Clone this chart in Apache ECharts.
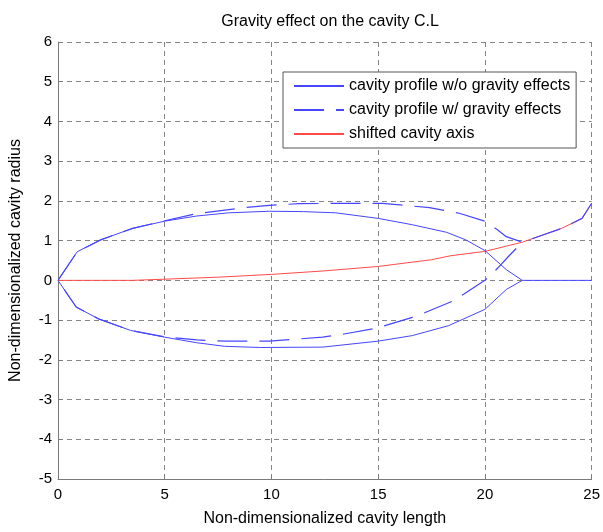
<!DOCTYPE html>
<html>
<head>
<meta charset="utf-8">
<title>Gravity effect on the cavity C.L</title>
<script src="https://cdn.jsdelivr.net/npm/echarts@6/dist/echarts.min.js"></script>
<style>
  html, body { margin: 0; padding: 0; background: #fff; }
  #chart { width: 603px; height: 532px; }
</style>
</head>
<body>
<div id="chart"></div>
<script>
// Cavity profile without gravity: upper contour, lower contour, closed wake
const noGravityUpper = [[0,0],[0.9,0.72],[2.0,1.02],[3.5,1.31],[5.0,1.49],[6.5,1.62],[8.0,1.70],[9.9,1.74],[11.5,1.73],[13.0,1.70],[15.0,1.56],[16.6,1.40],[18.2,1.21],[19.1,1.02],[20.0,0.75],[21.0,0.27],[21.75,0]];
const noGravityLower = [[0,0],[0.85,-0.67],[1.9,-0.97],[3.4,-1.26],[5.0,-1.43],[6.5,-1.57],[7.8,-1.66],[9.5,-1.69],[12.4,-1.68],[15.0,-1.53],[16.6,-1.39],[18.3,-1.14],[20.0,-0.73],[21.0,-0.23],[21.75,0]];
const noGravityTail = [[21.75,0],[25,0]];

// Cavity profile with gravity: upper contour, lower contour, tail along shifted axis
const gravityUpper = [[0,0],[0.9,0.72],[2.0,1.02],[3.5,1.31],[5.0,1.50],[6.5,1.68],[8.7,1.83],[9.9,1.89],[11.3,1.93],[13.0,1.94],[15.2,1.94],[17.4,1.83],[18.8,1.69],[20.0,1.49],[20.6,1.27],[21.0,1.10],[21.75,0.96]];
const gravityLower = [[0,0],[0.85,-0.67],[1.9,-0.97],[3.4,-1.26],[5.0,-1.42],[6.5,-1.50],[7.9,-1.53],[9.9,-1.53],[12.4,-1.43],[13.4,-1.35],[14.75,-1.22],[15.2,-1.16],[16.6,-0.93],[17.2,-0.81],[18.5,-0.52],[19.0,-0.35],[20.0,0],[20.2,0.1],[20.6,0.31],[21.1,0.6],[21.75,0.96]];
const gravityTail = [[21.75,0.96],[23.6,1.31],[24.55,1.56],[25,1.94]];

// Shifted cavity axis
const shiftedAxis = [[0,0],[3.5,0],[5,0.03],[7.5,0.08],[10,0.15],[12.5,0.24],[15,0.35],[17.5,0.52],[18.4,0.62],[20,0.73],[21.75,0.96],[23.6,1.31],[24.55,1.56],[25,1.94]];

const xTicks = { min: 0, max: 25, step: 5 };
const yTicks = { min: -5, max: 6, step: 1 };

// Join contours into one continuous polyline: tail -> upper (reversed) -> lower
function outline(tail, upper, lower) {
  return tail.slice().reverse().concat(upper.slice().reverse().slice(1), lower.slice(1));
}

const FONT = 'Liberation Sans, Arial, Helvetica, sans-serif';
const AXIS_GREY = '#7a7a7a';
const GRID_GREY = '#858585';
const BLUE = '#4646ff';
const RED = '#ff4a4a';

const chart = echarts.init(document.getElementById('chart'), null, { renderer: 'canvas' });

chart.setOption({
  backgroundColor: '#ffffff',
  animation: false,
  textStyle: { fontFamily: FONT },
  title: {
    text: 'Gravity effect on the cavity C.L',
    left: 325,
    textAlign: 'center',
    top: 9,
    textStyle: { fontFamily: FONT, fontSize: 16, fontWeight: 'normal', color: '#000' }
  },
  grid: { left: 57, right: 10, top: 42, bottom: 49, containLabel: false },
  legend: {
    orient: 'vertical',
    left: 283,
    top: 72,
    padding: [6, 6, 6, 10],
    itemWidth: 50,
    itemHeight: 14,
    itemGap: 8,
    backgroundColor: '#fff',
    borderColor: '#555',
    borderWidth: 1,
    borderRadius: 0,
    itemStyle: { opacity: 0 },
    textStyle: { fontFamily: FONT, fontSize: 16, color: '#000' },
    data: ['cavity profile w/o gravity effects', 'cavity profile w/ gravity effects', 'shifted cavity axis']
  },
  xAxis: {
    type: 'value',
    min: xTicks.min, max: xTicks.max, interval: xTicks.step,
    name: 'Non-dimensionalized cavity length',
    nameLocation: 'middle',
    nameGap: 32,
    nameTextStyle: { fontFamily: FONT, fontSize: 16, color: '#000' },
    axisLine: { show: true, onZero: false, lineStyle: { color: AXIS_GREY, width: 1 } },
    axisTick: { show: true, inside: true, length: 4, lineStyle: { color: AXIS_GREY } },
    axisLabel: { fontFamily: FONT, fontSize: 15, color: '#000', margin: 8 },
    splitLine: { show: true, lineStyle: { color: GRID_GREY, width: 1, type: [5, 4] } }
  },
  yAxis: {
    type: 'value',
    min: yTicks.min, max: yTicks.max, interval: yTicks.step,
    name: 'Non-dimensionalized cavity radius',
    nameLocation: 'middle',
    nameGap: 34,
    nameTextStyle: { fontFamily: FONT, fontSize: 16, color: '#000' },
    axisLine: { show: true, onZero: false, lineStyle: { color: AXIS_GREY, width: 1 } },
    axisTick: { show: true, inside: true, length: 4, lineStyle: { color: AXIS_GREY } },
    axisLabel: { fontFamily: FONT, fontSize: 15, color: '#000', margin: 6 },
    splitLine: { show: true, lineStyle: { color: GRID_GREY, width: 1, type: [5, 4] } }
  },
  series: [
    {
      name: 'cavity profile w/o gravity effects',
      type: 'line',
      data: outline(noGravityTail, noGravityUpper, noGravityLower),
      symbol: 'none',
      z: 3,
      lineStyle: { color: BLUE, width: 1 },
      itemStyle: { color: BLUE }
    },
    {
      name: 'cavity profile w/ gravity effects',
      type: 'line',
      data: outline(gravityTail, gravityUpper, gravityLower),
      symbol: 'none',
      z: 4,
      lineStyle: { color: BLUE, width: 1.2, type: [30, 12] },
      itemStyle: { color: BLUE }
    },
    {
      name: 'shifted cavity axis',
      type: 'line',
      data: shiftedAxis,
      symbol: 'none',
      z: 2,
      lineStyle: { color: RED, width: 1 },
      itemStyle: { color: RED }
    }
  ]
});
</script>
</body>
</html>
